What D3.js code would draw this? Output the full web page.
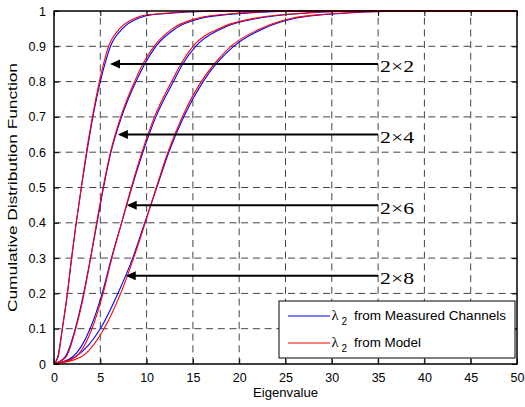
<!DOCTYPE html>
<html>
<head>
<meta charset="utf-8">
<script src="https://cdn.jsdelivr.net/npm/d3@7"></script>
<style>
body{margin:0;background:#fff;}
svg{display:block;}
</style>
</head>
<body>
<svg id="chart" width="525" height="407"></svg>
<script>
// ---- data ----
const cdfLevels = [0, 0.02, 0.1, 0.2, 0.3, 0.4, 0.5, 0.6, 0.7, 0.8, 0.85, 0.9, 0.95, 0.98, 0.99, 1, 1];
const configs = ["2\u00d72", "2\u00d74", "2\u00d76", "2\u00d78"];
const measured2x2 = [0, 0.4, 0.9, 1.45, 1.9, 2.4, 2.95, 3.55, 4.2, 5.0, 5.5, 6.1, 7.4, 9.2, 10.8, 18, 50];
const measured2x4 = [0, 1.2, 2.3, 3.2, 3.95, 4.65, 5.35, 6.15, 7.3, 8.85, 9.8, 11.0, 13.1, 16.0, 18.8, 27, 50];
const measured2x6 = [0, 2.0, 3.9, 5.2, 6.2, 7.3, 8.4, 9.6, 11.0, 12.9, 13.9, 15.3, 18.1, 22.2, 25.2, 33, 50];
const measured2x8 = [0, 2.3, 5.0, 6.9, 8.5, 9.8, 11.1, 12.4, 14.0, 16.1, 17.5, 19.4, 22.6, 26.2, 29.2, 38, 50];
const model2x2 = [0, 0.45, 0.9, 1.45, 1.9, 2.4, 2.95, 3.5, 4.15, 4.9, 5.35, 5.9, 7.1, 8.8, 10.3, 17, 50];
const model2x4 = [0, 1.3, 2.35, 3.25, 3.95, 4.6, 5.3, 6.1, 7.2, 8.7, 9.6, 10.8, 12.8, 15.6, 18.2, 26, 50];
const model2x6 = [0, 2.3, 4.1, 5.3, 6.25, 7.3, 8.35, 9.5, 10.85, 12.7, 13.7, 15.0, 17.8, 21.8, 24.8, 32, 50];
const model2x8 = [0, 2.9, 5.4, 7.2, 8.6, 9.85, 11.05, 12.3, 13.85, 15.9, 17.3, 19.1, 22.3, 25.8, 28.8, 37, 50];
// arrow annotations: level, tip x, tail x
const arrowLevels = [0.85, 0.65, 0.45, 0.25];
const arrowTips = [6.05, 6.9, 7.85, 7.75];
const arrowTail = 35;
const xTicks = [0, 5, 10, 15, 20, 25, 30, 35, 40, 45, 50];
const yTicks = [0, 0.1, 0.2, 0.3, 0.4, 0.5, 0.6, 0.7, 0.8, 0.9, 1];
const legendNames = ["from Measured Channels", "from Model"];

// ---- layout ----
const svg = d3.select("#chart");
const L = 54, R = 517, T = 11, B = 364;
const x = d3.scaleLinear().domain([0, 50]).range([L, R]);
const y = d3.scaleLinear().domain([0, 1]).range([B, T]);
const font = "'Liberation Sans', Arial, Helvetica, sans-serif";
const serif = "'Liberation Serif', 'Times New Roman', 'DejaVu Serif', serif";

// grid
const grid = svg.append("g").attr("stroke", "#444").attr("stroke-width", 1)
  .attr("stroke-dasharray", "7,4.7").attr("fill", "none");
xTicks.slice(1, -1).forEach(t => grid.append("line")
  .attr("x1", x(t)).attr("x2", x(t)).attr("y1", B).attr("y2", T));
yTicks.slice(1, -1).forEach(t => grid.append("line")
  .attr("x1", L).attr("x2", R).attr("y1", y(t)).attr("y2", y(t)));

// curves
const line = d3.line().x(d => x(d[0])).y(d => y(d[1])).curve(d3.curveMonotoneX);
const toPts = xs => xs.map((v, i) => [v, cdfLevels[i]]);
const measured = [measured2x2, measured2x4, measured2x6, measured2x8];
const model = [model2x2, model2x4, model2x6, model2x8];
const curves = svg.append("g").attr("fill", "none").attr("stroke-width", 1.1);
measured.forEach(s => curves.append("path").attr("d", line(toPts(s))).attr("stroke", "#0000ff"));
model.forEach(s => curves.append("path").attr("d", line(toPts(s))).attr("stroke", "#ff0000"));

// axes (ticks inside, box)
const tickLen = 5;
const axB = d3.axisBottom(x).tickValues(xTicks).tickSizeInner(-tickLen).tickSizeOuter(0).tickPadding(9);
const axL = d3.axisLeft(y).tickValues(yTicks).tickSizeInner(-tickLen).tickSizeOuter(0).tickPadding(8)
  .tickFormat(d => d3.format("~g")(d));
const axT = d3.axisTop(x).tickValues(xTicks).tickSizeInner(-tickLen).tickSizeOuter(0).tickFormat("");
const axR = d3.axisRight(y).tickValues(yTicks).tickSizeInner(-tickLen).tickSizeOuter(0).tickFormat("");
function styleAxis(g) {
  g.select(".domain").remove();
  g.selectAll(".tick line").attr("stroke", "#000").attr("stroke-width", 1);
  g.selectAll("text").attr("font-family", font).attr("font-size", 12.5).attr("fill", "#000");
}
svg.append("g").attr("transform", `translate(0,${B})`).call(axB).call(styleAxis);
svg.append("g").attr("transform", `translate(${L},0)`).call(axL).call(styleAxis);
svg.append("g").attr("transform", `translate(0,${T})`).call(axT).call(styleAxis);
svg.append("g").attr("transform", `translate(${R},0)`).call(axR).call(styleAxis);
svg.append("rect").attr("x", L).attr("y", T).attr("width", R - L).attr("height", B - T)
  .attr("fill", "none").attr("stroke", "#000").attr("stroke-width", 1.5);

// arrows
arrowLevels.forEach((lv, i) => {
  const tx = x(arrowTips[i]), ty = y(lv);
  svg.append("line").attr("x1", x(arrowTail)).attr("x2", tx + 2)
    .attr("y1", ty).attr("y2", ty).attr("stroke", "#000").attr("stroke-width", 2);
  svg.append("path").attr("d", `M${tx},${ty} L${tx + 10},${ty - 4.5} L${tx + 10},${ty + 4.5} Z`).attr("fill", "#000");
  svg.append("text").attr("x", x(arrowTail) + 2).attr("y", ty + 8.5)
    .attr("font-family", serif).attr("font-size", 17.5)
    .attr("textLength", 34).attr("lengthAdjust", "spacingAndGlyphs")
    .text(configs[i]);
});

// legend
const lg = svg.append("g");
lg.append("rect").attr("x", 279).attr("y", 301).attr("width", 236).attr("height", 57)
  .attr("fill", "#fff").attr("stroke", "#000").attr("stroke-width", 1);
const lcolors = ["#0000ff", "#ff0000"];
const legendLens = [152, 67];
legendNames.forEach((nm, i) => {
  const ly = 316 + i * 27;
  lg.append("line").attr("x1", 288).attr("x2", 330).attr("y1", ly).attr("y2", ly)
    .attr("stroke", lcolors[i]).attr("stroke-width", 1);
  lg.append("text").attr("x", 331.5).attr("y", ly + 4).attr("font-family", serif)
    .attr("font-size", 14.5).text("\u03bb");
  lg.append("text").attr("x", 341.5).attr("y", ly + 8.5).attr("font-family", font)
    .attr("font-size", 10).text("2");
  lg.append("text").attr("x", 354).attr("y", ly + 4).attr("font-family", font)
    .attr("font-size", 12).attr("textLength", legendLens[i]).attr("lengthAdjust", "spacingAndGlyphs")
    .text(nm);
});

// axis titles
svg.append("text").attr("x", (L + R) / 2).attr("y", 396.5).attr("text-anchor", "middle")
  .attr("font-family", font).attr("font-size", 12).attr("textLength", 65)
  .attr("lengthAdjust", "spacingAndGlyphs").text("Eigenvalue");
svg.append("text").attr("transform", `translate(17,${(T + B) / 2}) rotate(-90)`).attr("text-anchor", "middle")
  .attr("font-family", font).attr("font-size", 12).attr("textLength", 249)
  .attr("lengthAdjust", "spacingAndGlyphs").text("Cumulative Distribution Function");
</script>
</body>
</html>
